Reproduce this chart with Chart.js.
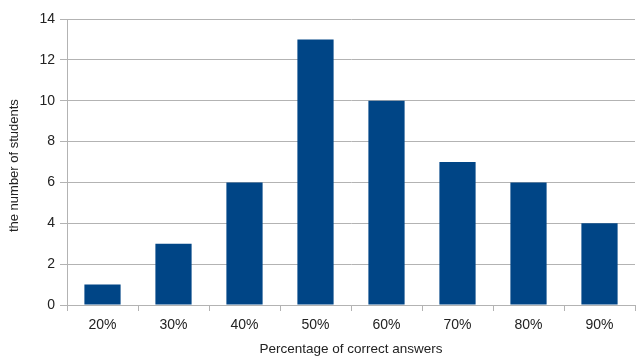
<!DOCTYPE html>
<html>
<head>
<meta charset="utf-8">
<script src="https://cdn.jsdelivr.net/npm/chart.js@4"></script>
<style>
  html, body { margin: 0; padding: 0; background: #fff; }
  #wrap { width: 636px; height: 357px; }
</style>
</head>
<body>
<div id="wrap"><canvas id="scoreChart" width="636" height="357"></canvas></div>
<script>
// Score distribution: students per percentage of correct answers
const categories = ['20%', '30%', '40%', '50%', '60%', '70%', '80%', '90%'];
const studentCounts = [1, 3, 6, 13, 10, 7, 6, 4];
const yTicks = [0, 2, 4, 6, 8, 10, 12, 14];

const barColor = '#004586';
const axisGray = '#b3b3b3';
const fontFamily = '"Liberation Sans", Arial, sans-serif';

const ctx = document.getElementById('scoreChart').getContext('2d');
new Chart(ctx, {
    type: 'bar',
    data: {
        labels: categories,
        datasets: [{
            label: 'Students',
            data: studentCounts,
            backgroundColor: barColor,
            borderWidth: 0,
            categoryPercentage: 1,
            barPercentage: 0.51
        }]
    },
    options: {
        responsive: false,
        animation: false,
        layout: { padding: { top: 19, right: 1, left: 0, bottom: 0 } },
        plugins: {
            legend: { display: false },
            tooltip: { enabled: false }
        },
        scales: {
            x: {
                offset: true,
                border: { color: axisGray, width: 1 },
                grid: {
                    offset: true,
                    drawOnChartArea: false,
                    drawTicks: true,
                    tickLength: 6,
                    color: axisGray
                },
                ticks: {
                    color: '#222',
                    font: { family: fontFamily, size: 14 },
                    padding: 6,
                    maxRotation: 0
                },
                title: {
                    display: true,
                    text: 'Percentage of correct answers',
                    color: '#222',
                    font: { family: fontFamily, size: 13.5 },
                    padding: { top: 10, bottom: 0 }
                },
                afterFit: scale => { scale.height = 52; }
            },
            y: {
                min: 0,
                max: 14,
                afterBuildTicks: scale => {
                    scale.ticks = yTicks.map(v => ({ value: v }));
                },
                border: { color: axisGray, width: 1 },
                grid: {
                    color: axisGray,
                    tickLength: 7
                },
                ticks: {
                    color: '#222',
                    font: { family: fontFamily, size: 14 },
                    padding: 5
                },
                title: {
                    display: true,
                    text: 'the number of students  ',
                    color: '#222',
                    font: { family: fontFamily, size: 13 },
                    padding: { top: 7, bottom: 0 }
                },
                afterFit: scale => { scale.width = 67; }
            }
        }
    }
});
</script>
</body>
</html>
